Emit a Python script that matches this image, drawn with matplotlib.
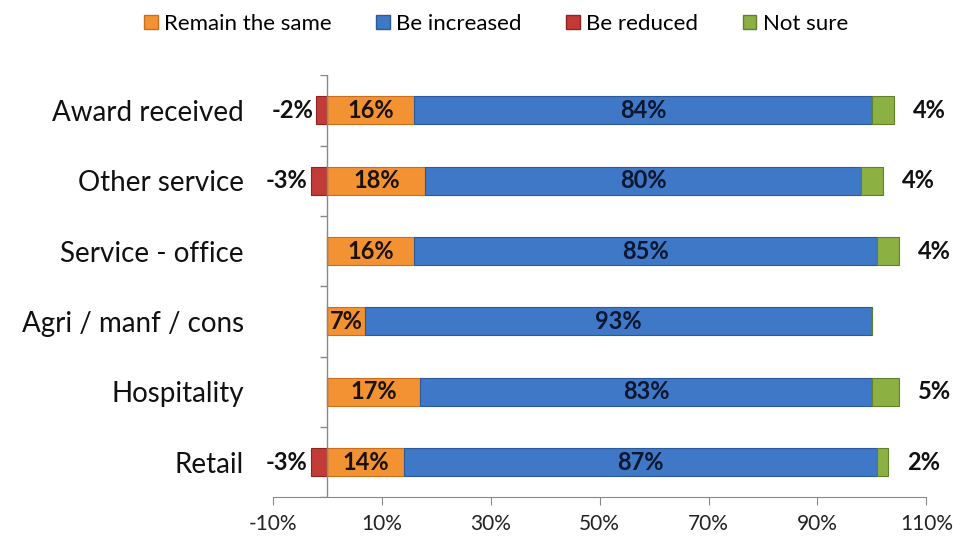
import numpy as np
import matplotlib.pyplot as plt
from matplotlib.patches import Patch

plt.rcParams['font.family'] = ['Lato', 'DejaVu Sans']

categories = ['Award received', 'Other service', 'Service - office',
              'Agri / manf / cons', 'Hospitality', 'Retail']
remain = [16, 18, 16, 7, 17, 14]
increased = [84, 80, 85, 93, 83, 87]
reduced = [-2, -3, 0, 0, 0, -3]
notsure = [4, 4, 4, 0, 5, 2]

series_names = ['Remain the same', 'Be increased', 'Be reduced', 'Not sure']
colors = ['#F39233', '#3F78C6', '#C23B37', '#8DB043']
edges = ['#C96F1C', '#2B5A9C', '#8E2320', '#61802A']

fig = plt.figure(figsize=(9.54, 5.41), dpi=100)
ax = fig.add_axes([0.286, 0.081, 0.685, 0.78])

pos = np.arange(len(categories))
h = 0.4

rem = np.array(remain)
inc = np.array(increased)
red = np.array(reduced)
ns = np.array(notsure)

ax.barh(pos, rem, h, left=0, color=colors[0], edgecolor=edges[0], lw=0.8, zorder=3)
ax.barh(pos, inc, h, left=rem, color=colors[1], edgecolor=edges[1], lw=0.8, zorder=3)
ax.barh(pos, red, h, left=0, color=colors[2], edgecolor=edges[2], lw=0.8, zorder=3)
ax.barh(pos, ns, h, left=rem + inc, color=colors[3], edgecolor=edges[3], lw=0.8, zorder=3)

lab = dict(fontsize=17, fontweight='bold', va='center', zorder=5)
for i in range(len(categories)):
    ax.text(rem[i] / 2, pos[i], '%d%%' % rem[i], ha='center', color='#1a1208', **lab)
    ax.text(rem[i] + inc[i] / 2, pos[i], '%d%%' % inc[i], ha='center', color='#0b1730', **lab)
    if red[i] != 0:
        ax.text(red[i] - 0.6, pos[i], '%d%%' % red[i], ha='right', color='#111111', **lab)
    if ns[i] != 0:
        ax.text(rem[i] + inc[i] + ns[i] + 3.5, pos[i], '%d%%' % ns[i], ha='left',
                color='#111111', **lab)

ax.set_xlim(-10, 110)
ax.set_ylim(len(categories) - 0.5, -0.5)
ax.set_xticks(np.arange(-10, 111, 20))
ax.set_xticklabels(['%d%%' % v for v in np.arange(-10, 111, 20)])
ax.tick_params(axis='x', direction='out', length=6, color='#888888',
               labelsize=15, labelcolor='#222222', pad=6)

ax.set_yticks(pos)
ax.set_yticklabels(categories)
ax.tick_params(axis='y', length=0, labelsize=20, labelcolor='#111111', pad=21)

for s in ['top', 'right', 'left']:
    ax.spines[s].set_visible(False)
ax.spines['bottom'].set_color('#888888')

# vertical axis at zero with small tick marks between categories
ax.axvline(0, color='#888888', lw=1, zorder=4)
bounds = np.arange(-0.5, len(categories), 1.0)
ax.hlines(bounds, -1.3, 0, color='#888888', lw=1, zorder=4)

handles = [Patch(facecolor=c, edgecolor=e) for c, e in zip(colors, edges)]
fig.legend(handles, series_names, loc='upper center', bbox_to_anchor=(0.52, 1.012),
           ncol=4, frameon=False, fontsize=16, handlelength=0.6, handleheight=0.6,
           handletextpad=0.3, columnspacing=2.0)

fig.savefig('out.png', dpi=100)
